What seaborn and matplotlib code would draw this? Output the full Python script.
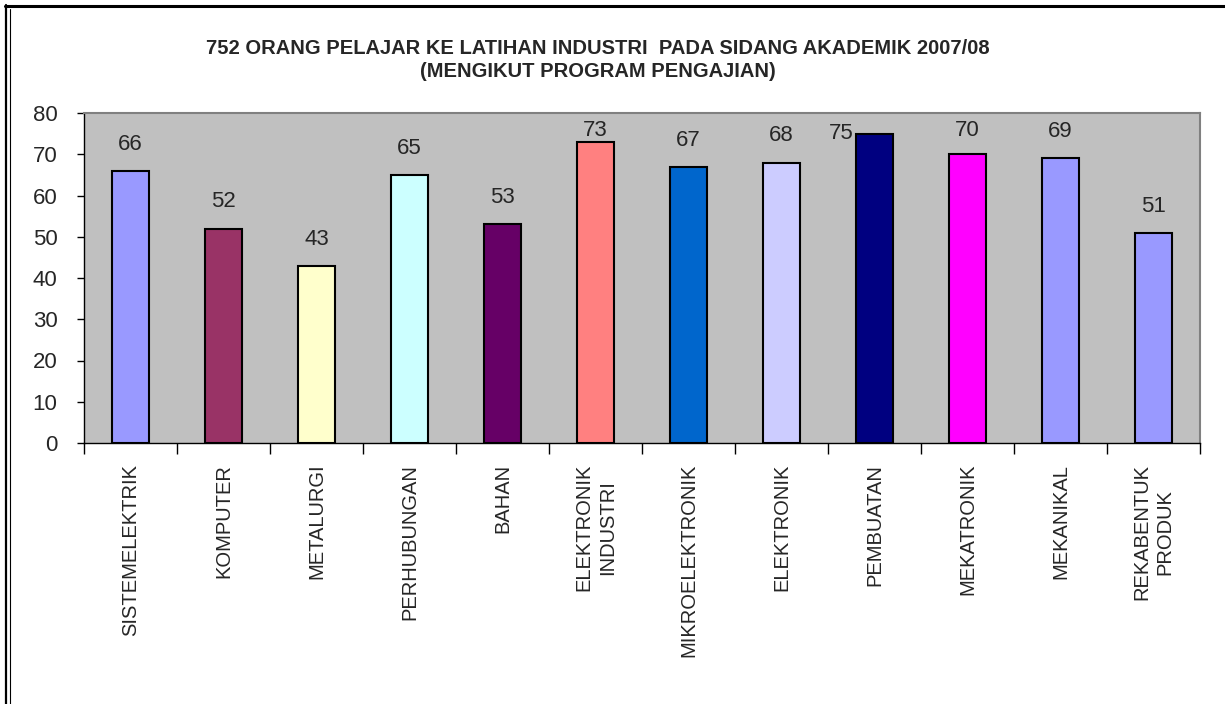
import matplotlib
matplotlib.use("Agg")
import matplotlib.pyplot as plt
from matplotlib.lines import Line2D
import numpy as np
import seaborn as sns

# data
program = ["SISTEMELEKTRIK", "KOMPUTER", "METALURGI", "PERHUBUNGAN", "BAHAN",
           "ELEKTRONIK\nINDUSTRI", "MIKROELEKTRONIK", "ELEKTRONIK", "PEMBUATAN",
           "MEKATRONIK", "MEKANIKAL", "REKABENTUK\nPRODUK"]
pelajar = [66, 52, 43, 65, 53, 73, 67, 68, 75, 70, 69, 51]
warna = ["#9999FF", "#993366", "#FFFFCC", "#CCFFFF", "#660066", "#FF8080",
         "#0066CC", "#CCCCFF", "#000080", "#FF00FF", "#9999FF", "#9999FF"]

sns.set_theme(style="white")
plt.rcParams['font.family'] = ['Liberation Sans', 'DejaVu Sans']

fig = plt.figure(figsize=(12.25, 7.04), dpi=100)
ax = fig.add_axes([84 / 1225, 1 - 443 / 704, (1200 - 84) / 1225, (443 - 113) / 704])
ax.set_facecolor("#C0C0C0")

sns.barplot(x=program, y=pelajar, hue=program, palette=warna, legend=False,
            width=0.4, edgecolor="black", linewidth=1.5, saturation=1, ax=ax)

# label nilai
for i, v in enumerate(pelajar):
    ruang = 80 - v
    if ruang < 6:
        ax.text(i - 0.22, v - 2.5, str(v), ha="right", va="bottom", fontsize=16)
    else:
        ax.text(i, min(v + 3.9, 73.2), str(v), ha="center", va="bottom", fontsize=16)

ax.set_ylim(0, 80)
ax.set_xlim(-0.5, len(program) - 0.5)
ax.set_yticks(range(0, 81, 10))
ax.tick_params(axis="y", labelsize=16, length=5, width=1, pad=14, left=True, color="black")
ax.set_xticks(range(len(program)))
ax.set_xticklabels(program, rotation=90, va="top", ha="center", fontsize=14.5,
                   multialignment="center", linespacing=1.3)
ax.tick_params(axis="x", which="major", length=0, pad=15)
ax.set_xticks(np.arange(-0.5, len(program), 1), minor=True)
ax.tick_params(axis="x", which="minor", length=8, width=1, bottom=True, color="black")

for s in ["top", "right"]:
    ax.spines[s].set_color("#808080")
    ax.spines[s].set_linewidth(1.5)
for s in ["left", "bottom"]:
    ax.spines[s].set_color("black")
    ax.spines[s].set_linewidth(1)
ax.set_xlabel("")
ax.set_ylabel("")

fig.text(598 / 1225, 1 - 60 / 704,
         "752 ORANG PELAJAR KE LATIHAN INDUSTRI  PADA SIDANG AKADEMIK 2007/08\n(MENGIKUT PROGRAM PENGAJIAN)",
         ha="center", va="center", fontsize=14.5, fontweight="bold", linespacing=1.25)

# bingkai luar
fig.add_artist(Line2D([5 / 1225, 1], [1 - 6 / 704, 1 - 6 / 704], color="black", lw=2.2))
fig.add_artist(Line2D([6 / 1225, 6 / 1225], [0, 1 - 5 / 704], color="black", lw=1.6))
fig.add_artist(Line2D([9.5 / 1225, 9.5 / 1225], [0, 1 - 9 / 704], color="black", lw=0.8))

fig.savefig("out.png", dpi=100, facecolor="white")
